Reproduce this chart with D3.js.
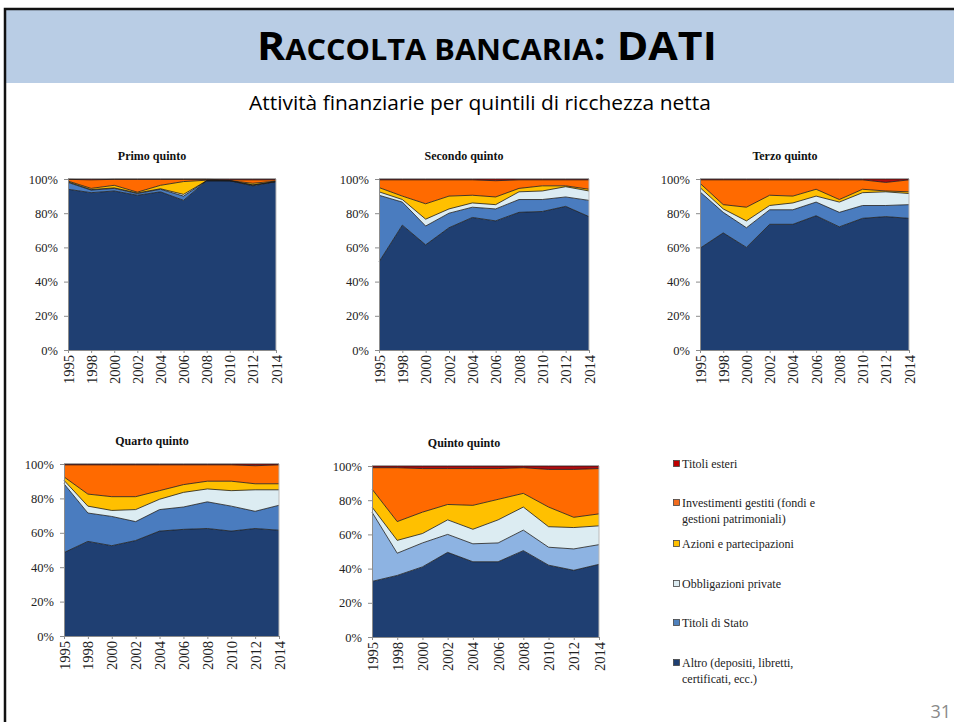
<!DOCTYPE html>
<html>
<head>
<meta charset="utf-8">
<script src="https://cdn.jsdelivr.net/npm/d3@7"></script>
<style>
  body { margin: 0; background: #fff; }
  svg { display: block; }
  .axis text { font-family: "Liberation Serif", "Times New Roman", serif; fill: #222; }
  .axis path, .axis line { stroke: #8c8c8c; stroke-width: 1; }
</style>
</head>
<body>
<svg id="slide" width="954" height="722"></svg>
<script>
// years on the x axis (equally spaced)
var years = ["1995", "1998", "2000", "2002", "2004", "2006", "2008", "2010", "2012", "2014"];
var yTicks = [0, 20, 40, 60, 80, 100];

// series, stacked bottom -> top
var seriesNames = ["Altro", "Titoli di Stato", "Obbligazioni private", "Azioni e partecipazioni", "Investimenti gestiti", "Titoli esteri"];
var seriesColors = ["#1f3f72", "#4a7cbf", "#dcecf2", "#ffc000", "#ff6a00", "#b00c10"];

var chartTitles = ["Primo quinto", "Secondo quinto", "Terzo quinto", "Quarto quinto", "Quinto quinto"];

// shares (%) per chart, one row per series in the order of seriesNames
var primoQuinto = [
  [94, 92, 93, 90.5, 92.5, 87.5, 99, 99, 96, 98.5],
  [4, 1.5, 1.5, 1, 1.5, 2.5, 0, 0, 0.5, 0],
  [0.3, 0.3, 0.3, 0.3, 0.3, 1, 0, 0, 0, 0],
  [0.5, 0.7, 1.5, 0.5, 2, 7.5, 0.3, 0, 1, 0.3],
  [1, 5, 3.5, 7.5, 3.5, 1.3, 0.5, 0.5, 2, 0.7],
  [0.2, 0.5, 0.2, 0.2, 0.2, 0.2, 0.2, 0.5, 0.5, 0.5]
];
var secondoQuinto = [
  [51.5, 73, 61.5, 71.5, 77.5, 75.5, 80.5, 81, 84, 78],
  [39, 13.5, 11, 8.5, 6, 7, 7.5, 7, 5.5, 9.5],
  [2, 1.5, 4, 2.5, 2.5, 2.5, 4.5, 5, 6, 5.5],
  [2.5, 2, 9, 7.5, 4.5, 4.5, 2, 3, 0.5, 1],
  [4.5, 9.5, 14, 9.5, 9, 9.5, 5, 3.5, 3.5, 5.5],
  [0.5, 0.5, 0.5, 0.5, 0.5, 1, 0.5, 0.5, 0.5, 0.5]
];
var terzoQuinto = [
  [59.5, 68.5, 60, 73.5, 73.5, 78.5, 72, 77, 78, 77],
  [33, 12, 11.5, 8.5, 8.5, 8, 8.5, 7.5, 6.5, 8],
  [2.5, 2, 4, 2.5, 4, 3.5, 6, 7.5, 8, 6.5],
  [2.5, 2.5, 8, 6, 4, 4, 1.5, 2, 0.5, 1],
  [2, 14.5, 16, 9, 9.5, 5.5, 11.5, 5.5, 5, 7],
  [0.5, 0.5, 0.5, 0.5, 0.5, 0.5, 0.5, 0.5, 2, 0.5]
];
var quartoQuinto = [
  [48.5, 55, 52.5, 55.5, 61, 62, 62.5, 61, 62.5, 61.5],
  [40, 16.5, 17, 11, 12.5, 13, 15.5, 14.5, 10, 14.5],
  [2, 4, 3.5, 7, 6, 8.5, 7.5, 9, 12.5, 9],
  [2, 7, 8, 7.5, 5, 4.5, 4.5, 5.5, 3.5, 3.5],
  [7, 17, 18.5, 18.5, 15, 11.5, 9.5, 9.5, 10.5, 11],
  [0.5, 0.5, 0.5, 0.5, 0.5, 0.5, 0.5, 0.5, 1, 0.5]
];
var quintoQuinto = [
  [32.5, 36, 41, 49.5, 44, 44, 50.5, 42, 39, 42.5],
  [40.5, 13, 14, 10.5, 10.5, 11, 12, 10.5, 12.5, 11.5],
  [3, 7.5, 5.5, 8.5, 8.5, 13.5, 13.5, 12, 12.5, 11],
  [10.5, 11, 12.5, 9, 14, 12, 8, 11.5, 6, 7],
  [12.5, 31.5, 25.5, 21, 21.5, 18, 15, 22, 28, 26.5],
  [1, 1, 1.5, 1.5, 1.5, 1.5, 1, 2, 2, 1.5]
];
var allCharts = [primoQuinto, secondoQuinto, terzoQuinto, quartoQuinto, quintoQuinto];

// legend (top -> bottom)
var legendLines = [
  ["Titoli esteri"],
  ["Investimenti gestiti (fondi e", "gestioni patrimoniali)"],
  ["Azioni e partecipazioni"],
  ["Obbligazioni private"],
  ["Titoli di Stato"],
  ["Altro (depositi, libretti,", "certificati, ecc.)"]
];
var legendColors = ["#c00000", "#f26b1d", "#ffc000", "#dcecf2", "#4f81bd", "#1f3f72"];

var svg = d3.select("#slide");

// slide frame and header band
svg.append("rect")
    .attr("x", 5).attr("y", 10)
    .attr("width", 960).attr("height", 73)
    .attr("fill", "#b9cde5");

svg.append("path")
    .attr("d", "M5,730 V9 H960")
    .attr("fill", "none")
    .attr("stroke", "#111")
    .attr("stroke-width", 2.5);

// title in small caps
var title = svg.append("text")
    .attr("font-family", "'Liberation Sans Narrow', 'Open Sans', sans-serif")
    .attr("font-weight", "bold")
    .attr("fill", "#000");
title.append("tspan").attr("font-size", 39).text("R");
title.append("tspan").attr("font-size", 28).text("ACCOLTA BANCARIA");
title.append("tspan").attr("font-size", 39).text(": DATI");
var tw = title.node().getBBox().width;
title.attr("transform", "translate(" + (487 - 460 / 2) + ",60) scale(" + (460 / tw) + ",1)");

var subtitle = svg.append("text")
    .attr("font-family", "'Open Sans', sans-serif")
    .attr("font-size", 19.5)
    .attr("fill", "#000")
    .text("Attività finanziarie per quintili di ricchezza netta");
var sw = subtitle.node().getBBox().width;
subtitle.attr("transform", "translate(" + (480 - 462 / 2) + ",110) scale(" + (462 / sw) + ",1)");

svg.append("text")
    .attr("x", 951).attr("y", 718)
    .attr("text-anchor", "end")
    .attr("font-family", "'Open Sans', sans-serif")
    .attr("font-size", 18)
    .attr("fill", "#8a8a8a")
    .text("31");

// plot boxes
var boxes = [
  {left: 68, right: 276, top: 179, bottom: 350, tx: 152, ty: 160},
  {left: 379, right: 589, top: 179, bottom: 350, tx: 464, ty: 160},
  {left: 700, right: 909, top: 179, bottom: 350, tx: 785, ty: 160},
  {left: 64, right: 279, top: 464, bottom: 636, tx: 152, ty: 445},
  {left: 372, right: 599, top: 466, bottom: 637, tx: 464, ty: 447, stato: "#8db3e2"}
];

allCharts.forEach(function(rows, ci) {
  var b = boxes[ci];
  var g = svg.append("g");

  var table = years.map(function(yr, i) {
    var row = {year: yr};
    rows.forEach(function(r, si) { row["s" + si] = r[i]; });
    return row;
  });
  var keys = rows.map(function(r, si) { return "s" + si; });
  var stacked = d3.stack().keys(keys)(table);

  var x = d3.scalePoint().domain(years).range([b.left, b.right]);
  var y = d3.scaleLinear().domain([0, 100]).range([b.bottom, b.top]);

  var area = d3.area()
      .x(function(d) { return x(d.data.year); })
      .y0(function(d) { return y(d[0]); })
      .y1(function(d) { return y(Math.min(100, d[1])); });
  var topLine = d3.line()
      .x(function(d) { return x(d.data.year); })
      .y(function(d) { return y(Math.min(100, d[1])); });

  g.selectAll(".layer").data(stacked).enter()
    .append("path")
      .attr("class", "layer")
      .attr("d", area)
      .attr("fill", function(d, i) {
        return (i === 1 && b.stato) ? b.stato : seriesColors[i];
      });

  g.selectAll(".edge").data(stacked).enter()
    .append("path")
      .attr("class", "edge")
      .attr("d", topLine)
      .attr("fill", "none")
      .attr("stroke", "#1a1a1a")
      .attr("stroke-width", 0.8);

  // right frame
  g.append("line")
      .attr("x1", b.right).attr("x2", b.right)
      .attr("y1", b.top).attr("y2", b.bottom)
      .attr("stroke", "#bbb");

  var yAxis = d3.axisLeft(y)
      .tickValues(yTicks)
      .tickSize(4)
      .tickPadding(6)
      .tickFormat(function(d) { return d + "%"; });
  g.append("g")
      .attr("class", "axis")
      .attr("transform", "translate(" + b.left + ",0)")
      .call(yAxis)
      .call(function(a) { a.selectAll("text").attr("font-size", 12.5); });

  var xAxis = d3.axisBottom(x).tickSize(3).tickSizeOuter(0);
  g.append("g")
      .attr("class", "axis")
      .attr("transform", "translate(0," + b.bottom + ")")
      .call(xAxis)
      .call(function(a) {
        a.selectAll("text")
          .attr("font-size", 14.5)
          .attr("transform", "rotate(-90)")
          .attr("text-anchor", "end")
          .attr("x", -5)
          .attr("y", 0)
          .attr("dy", "0.35em");
      });

  g.append("text")
      .attr("x", b.tx).attr("y", b.ty)
      .attr("text-anchor", "middle")
      .attr("font-family", "'Liberation Serif', 'Times New Roman', serif")
      .attr("font-weight", "bold")
      .attr("font-size", 12)
      .attr("fill", "#111")
      .text(chartTitles[ci]);
});

// legend
var legendY = [468, 507, 548, 588, 627, 667];
var legend = svg.append("g")
    .attr("font-family", "'Liberation Serif', 'Times New Roman', serif")
    .attr("font-size", 12)
    .attr("fill", "#222");

legendLines.forEach(function(lines, i) {
  legend.append("rect")
      .attr("x", 673.5).attr("y", legendY[i] - 7.5)
      .attr("width", 6).attr("height", 6)
      .attr("fill", legendColors[i])
      .attr("stroke", "#444")
      .attr("stroke-width", 0.8);
  lines.forEach(function(t, j) {
    legend.append("text")
        .attr("x", 682).attr("y", legendY[i] + j * 16)
        .text(t);
  });
});
</script>
</body>
</html>
